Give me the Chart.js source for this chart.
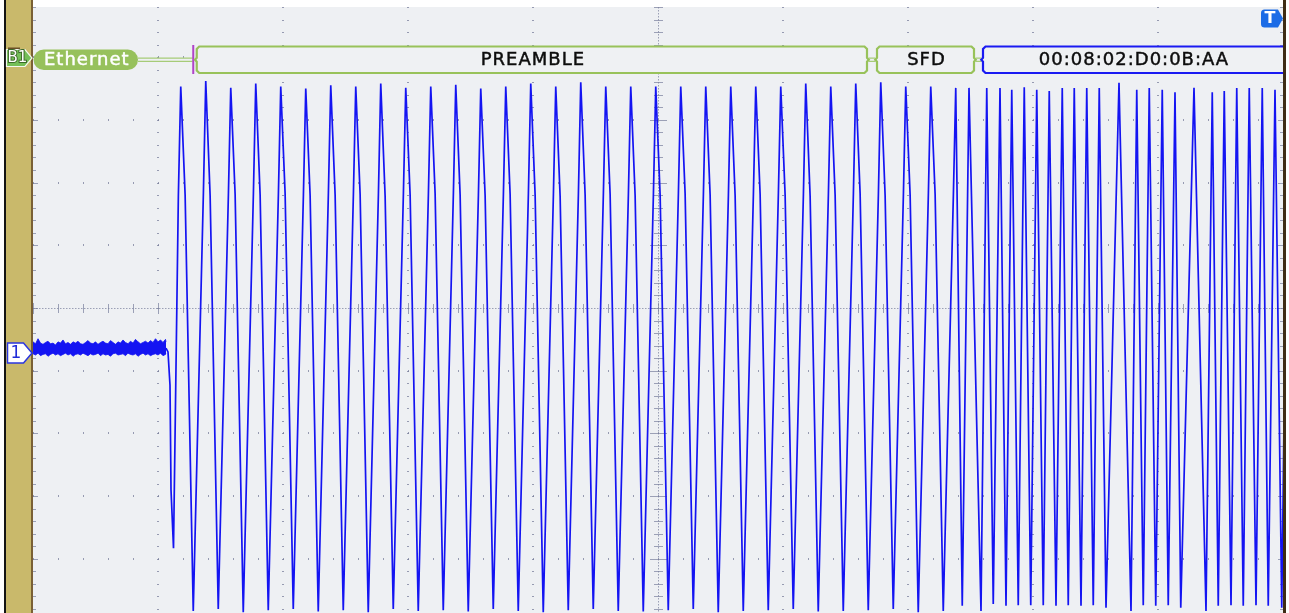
<!DOCTYPE html>
<html>
<head>
<meta charset="utf-8">
<script src="https://cdn.jsdelivr.net/npm/chart.js@4.4.1/dist/chart.umd.min.js"></script>
<style>
  html, body { margin: 0; padding: 0; background: #ffffff; overflow: hidden; }
  #wrap { position: absolute; left: 0; top: 0; width: 1289px; height: 613px; }
</style>
</head>
<body>
<div id="wrap"><canvas id="c" width="1289" height="613"></canvas></div>
<script>
// ---------- DATA (time in ns, level in divisions, 1 µs/div) ----------
const timeMin = -5000, timeMax = 5000;
const levelMin = -4.864, levelMax = 4.80;

// idle (noisy baseline) envelope
const idleTimes = [-5000,-4980,-4960,-4940,-4920,-4900,-4880,-4860,-4840,-4820,-4800,-4780,-4760,-4740,-4720,-4700,-4680,-4660,-4640,-4620,-4600,-4580,-4560,-4540,-4520,-4500,-4480,-4460,-4440,-4420,-4400,-4380,-4360,-4340,-4320,-4300,-4280,-4260,-4240,-4220,-4200,-4180,-4160,-4140,-4120,-4100,-4080,-4060,-4040,-4020,-4000,-3980,-3960,-3940,-3936];
const idleTop = [-0.54,-0.57,-0.49,-0.56,-0.58,-0.55,-0.53,-0.57,-0.56,-0.59,-0.54,-0.56,-0.51,-0.57,-0.55,-0.58,-0.54,-0.56,-0.53,-0.57,-0.58,-0.55,-0.52,-0.56,-0.57,-0.54,-0.58,-0.55,-0.53,-0.56,-0.57,-0.52,-0.55,-0.58,-0.54,-0.56,-0.51,-0.55,-0.57,-0.53,-0.56,-0.50,-0.54,-0.57,-0.55,-0.53,-0.56,-0.52,-0.55,-0.49,-0.54,-0.51,-0.55,-0.50,-0.54];
const idleBottom = [-0.73,-0.75,-0.72,-0.76,-0.74,-0.73,-0.77,-0.74,-0.72,-0.75,-0.73,-0.76,-0.74,-0.72,-0.75,-0.73,-0.77,-0.74,-0.73,-0.75,-0.72,-0.74,-0.76,-0.73,-0.75,-0.74,-0.72,-0.76,-0.73,-0.75,-0.74,-0.77,-0.73,-0.72,-0.75,-0.74,-0.73,-0.76,-0.72,-0.74,-0.75,-0.73,-0.77,-0.74,-0.72,-0.75,-0.73,-0.76,-0.74,-0.73,-0.75,-0.72,-0.76,-0.74,-0.73];

// start of frame (leaving idle)
const startTimes  = [-3936, -3920, -3904, -3896, -3876];
const startLevels = [-0.64, -0.70, -1.23, -2.90, -3.83];

// preamble: rising knee, peak, falling knee, trough
const preambleRiseKneeTimes = [-3837,-3637,-3437,-3237,-3037,-2837,-2637,-2437,-2237,-2037,-1837,-1637,-1437,-1237,-1037,-837,-637,-437,-237,-37,163,363,563,763,963,1163,1363,1563,1763,1963,2163,2363];
const preambleRiseKneeLevels = [1.80,1.82,1.79,1.81,1.80,1.78,1.82,1.80,1.79,1.81,1.80,1.82,1.78,1.80,1.81,1.79,1.80,1.82,1.80,1.79,1.81,1.80,1.78,1.80,1.82,1.79,1.80,1.81,1.80,1.79,1.82,1.80];
const preamblePeakTimes = [-3818,-3618,-3418,-3218,-3018,-2818,-2618,-2418,-2218,-2018,-1818,-1618,-1418,-1218,-1018,-818,-618,-418,-218,-18,182,382,582,782,982,1182,1382,1582,1782,1982,2182,2382];
const preamblePeakLevels = [3.53,3.62,3.51,3.58,3.53,3.50,3.55,3.53,3.58,3.51,3.53,3.56,3.50,3.53,3.58,3.53,3.60,3.53,3.53,3.53,3.53,3.53,3.53,3.53,3.53,3.58,3.53,3.58,3.60,3.53,3.53,3.51];
const preambleFallKneeTimes = [-3783,-3583,-3383,-3183,-2983,-2783,-2583,-2383,-2183,-1983,-1783,-1583,-1383,-1183,-983,-783,-583,-383,-183,17,217,417,617,817,1017,1217,1417,1617,1817,2017,2217];
const preambleFallKneeLevels = [1.80,1.79,1.81,1.80,1.82,1.79,1.80,1.81,1.78,1.80,1.82,1.80,1.79,1.81,1.80,1.78,1.80,1.81,1.79,1.80,1.82,1.80,1.79,1.81,1.80,1.78,1.80,1.82,1.79,1.80,1.81];
const preambleTroughTimes = [-3718,-3518,-3318,-3118,-2918,-2718,-2518,-2318,-2118,-1918,-1718,-1518,-1318,-1118,-918,-718,-518,-318,-118,82,282,482,682,882,1082,1282,1482,1682,1882,2082,2282];
const preambleTroughLevels = [-4.83,-4.80,-4.85,-4.82,-4.80,-4.84,-4.82,-4.85,-4.80,-4.83,-4.82,-4.84,-4.80,-4.83,-4.85,-4.82,-4.80,-4.83,-4.84,-4.82,-4.80,-4.85,-4.83,-4.82,-4.80,-4.84,-4.83,-4.82,-4.80,-4.85,-4.83];

// SFD end + destination address (alternating trough / peak)
const frameTimes = [2434,2488,2584,2630,2682,2736,2784,2830,2882,2930,2982,3030,3082,3130,3184,3234,3282,3330,3384,3430,3482,3530,3584,3688,3784,3830,3882,3930,3982,4034,4082,4136,4182,4288,4384,4434,4482,4530,4584,4630,4682,4730,4784,4834,4882,4936,4990,5040];
const frameLevels = [-4.75,3.51,-4.83,3.51,-4.72,3.51,-4.75,3.48,-4.74,3.52,-4.74,3.48,-4.74,3.46,-4.75,3.51,-4.74,3.51,-4.75,3.51,-4.74,3.51,-4.78,3.59,-4.83,3.48,-4.74,3.51,-4.75,3.48,-4.74,3.44,-4.78,3.51,-4.83,3.44,-4.75,3.46,-4.74,3.51,-4.75,3.51,-4.74,3.51,-4.75,3.48,-4.78,3.51];

// protocol decode row
const busName = "Ethernet";
const busFields = ["PREAMBLE", "SFD", "00:08:02:D0:0B:AA"];
const busFieldStart = [-3690, 1752, 2600];   // ns
const busFieldEnd   = [1672, 2528, 5020];    // ns

// ---------- build series ----------
function zip(ts, vs) { return ts.map((t, i) => ({ x: t, y: vs[i] })); }
const tracePts = zip(startTimes, startLevels);
for (let i = 0; i < preamblePeakTimes.length; i++) {
  tracePts.push({ x: preambleRiseKneeTimes[i], y: preambleRiseKneeLevels[i] });
  tracePts.push({ x: preamblePeakTimes[i], y: preamblePeakLevels[i] });
  if (i < preambleFallKneeTimes.length) tracePts.push({ x: preambleFallKneeTimes[i], y: preambleFallKneeLevels[i] });
  if (i < preambleTroughTimes.length) tracePts.push({ x: preambleTroughTimes[i], y: preambleTroughLevels[i] });
}
zip(frameTimes, frameLevels).forEach(p => tracePts.push(p));

const TRACE = 'rgb(20,20,242)';

// ---------- plugins ----------
const scopePlugin = {
  id: 'scope',
  beforeDraw(chart) {
    const ctx = chart.ctx, ca = chart.chartArea;
    const W = chart.width, H = chart.height;
    ctx.save();
    ctx.fillStyle = '#ffffff';
    ctx.fillRect(0, 0, W, H);
    ctx.fillStyle = '#eef0f3';
    ctx.fillRect(ca.left, ca.top, ca.right - ca.left, ca.bottom - ca.top);
    ctx.fillStyle = '#141414';
    ctx.fillRect(4, 0, 2, H);
    ctx.fillStyle = '#c9b96b';
    ctx.fillRect(6, 0, ca.left - 8, H);
    ctx.fillStyle = '#7a6034';
    ctx.fillRect(ca.left - 2, 0, 2, H);
    const xs = chart.scales.x, ys = chart.scales.y;
    ctx.fillStyle = 'rgba(120,126,155,0.75)';
    const minorY = [];
    for (let j = -30; j <= 30; j++) { const v = j * 0.2; if (v >= levelMin - 1e-6 && v <= levelMax + 1e-6) minorY.push(v); }
    const minorX = [];
    for (let j = -25; j <= 25; j++) minorX.push(j * 200);
    for (let i = -4; i <= 4; i++) {
      if (i === 0) continue;
      const px = Math.round(xs.getPixelForValue(i * 1000));
      minorY.forEach(v => { const py = Math.round(ys.getPixelForValue(v)); ctx.fillRect(px, py, 1, 1); ctx.fillRect(px - 1, py, 1, 1); });
    }
    for (let j = -4; j <= 4; j++) {
      if (j === 0) continue;
      const py = Math.round(ys.getPixelForValue(j));
      minorX.forEach(t => { const px = Math.round(xs.getPixelForValue(t)); ctx.fillRect(px, py, 1, 1); ctx.fillRect(px, py - 1, 1, 1); });
    }
    const cx = Math.round(xs.getPixelForValue(0));
    const cy = Math.round(ys.getPixelForValue(0));
    ctx.fillStyle = 'rgba(120,126,155,0.7)';
    for (let x = ca.left; x < ca.right; x += 3) ctx.fillRect(x, cy, 1.5, 1);
    for (let y = ca.top; y < ca.bottom; y += 3) ctx.fillRect(cx, y, 1, 1.5);
    minorX.forEach(t => { const px = Math.round(xs.getPixelForValue(t)); const L = (t % 1000 === 0) ? 5 : 4; ctx.fillRect(px, cy - L, 1, 2 * L + 1); });
    minorY.forEach(v => { const py = Math.round(ys.getPixelForValue(v)); const major = Math.abs(v - Math.round(v)) < 1e-6; const L = major ? 8 : 4; ctx.fillRect(cx - L, py, 2 * L + 1, 1); });
    minorY.forEach(v => { const py = Math.round(ys.getPixelForValue(v)); const major = Math.abs(v - Math.round(v)) < 1e-6; ctx.fillRect(ca.left, py, major ? 5 : 3, 1); ctx.fillRect(ca.right - (major ? 5 : 3), py, major ? 5 : 3, 1); });
    ctx.restore();
  },
  afterDraw(chart) {
    const ctx = chart.ctx, ca = chart.chartArea, xs = chart.scales.x;
    ctx.save();
    const T = 46.5, B = 73, M = 59.75;
    const green = '#98c25a';
    function box(L, R, color, openRight) {
      ctx.beginPath();
      if (openRight) {
        ctx.moveTo(R, T); ctx.lineTo(L + 2.5, T); ctx.lineTo(L, T + 2.5); ctx.lineTo(L, M - 2); ctx.lineTo(L - 1.8, M);
        ctx.lineTo(L, M + 2); ctx.lineTo(L, B - 2.5); ctx.lineTo(L + 2.5, B); ctx.lineTo(R, B);
      } else {
        ctx.moveTo(L + 2.5, T); ctx.lineTo(R - 2.5, T); ctx.lineTo(R, T + 2.5); ctx.lineTo(R, M - 2); ctx.lineTo(R + 1.8, M);
        ctx.lineTo(R, M + 2); ctx.lineTo(R, B - 2.5); ctx.lineTo(R - 2.5, B); ctx.lineTo(L + 2.5, B); ctx.lineTo(L, B - 2.5);
        ctx.lineTo(L, M + 2); ctx.lineTo(L - 1.8, M); ctx.lineTo(L, M - 2); ctx.lineTo(L, T + 2.5); ctx.closePath();
      }
      ctx.fillStyle = '#eff1f3';
      ctx.fill();
      ctx.strokeStyle = color; ctx.lineWidth = 2.2; ctx.lineJoin = 'miter';
      ctx.stroke();
    }
    function dbl(x1, x2) {
      ctx.strokeStyle = '#a6cb78'; ctx.lineWidth = 1.3;
      ctx.beginPath(); ctx.moveTo(x1, M - 1.6); ctx.lineTo(x2, M - 1.6); ctx.moveTo(x1, M + 1.6); ctx.lineTo(x2, M + 1.6); ctx.stroke();
    }
    function heavyText(s, x, y, color) {
      ctx.fillStyle = color; ctx.strokeStyle = color; ctx.lineWidth = 0.45;
      ctx.fillText(s, x, y); ctx.strokeText(s, x, y);
    }
    const px = busFieldStart.map(t => xs.getPixelForValue(t));
    const pxe = busFieldEnd.map(t => Math.min(xs.getPixelForValue(t), ca.right));
    // Ethernet pill
    const pL = ca.left + 0.5, pR = 138, pT = 49.5, pB = 70, r = (pB - pT) / 2;
    ctx.fillStyle = '#97c15c';
    ctx.beginPath();
    ctx.moveTo(pL + r, pT); ctx.lineTo(pR - r, pT); ctx.arc(pR - r, pT + r, r, -Math.PI / 2, Math.PI / 2);
    ctx.lineTo(pL + r, pB); ctx.arc(pL + r, pT + r, r, Math.PI / 2, Math.PI * 1.5); ctx.closePath(); ctx.fill();
    ctx.font = '18px "DejaVu Sans"';
    ctx.textAlign = 'center'; ctx.textBaseline = 'middle';
    try { ctx.letterSpacing = '1px'; } catch (e) {}
    heavyText(busName, (pL + pR) / 2 + 1, M + 0.5, '#ffffff');
    dbl(pR, px[0] - 4);
    ctx.fillStyle = '#b043c8';
    ctx.fillRect(px[0] - 4.5, 45, 2, 29);
    box(px[0], pxe[0], green, false);
    box(px[1], pxe[1], green, false);
    box(px[2], ca.right + 2, '#1a1af2', true);
    dbl(pxe[0] + 1.8, px[1] - 1.8);
    dbl(pxe[1] + 1.8, px[2] - 1.8);
    ctx.font = '18px "DejaVu Sans"';
    try { ctx.letterSpacing = '1px'; } catch (e) {}
    busFields.forEach((s, i) => {
      const c = (px[i] + (i === 2 ? ca.right : pxe[i])) / 2 + 1;
      heavyText(s, c, M + 0.5, '#0d0d0d');
    });
    try { ctx.letterSpacing = '0px'; } catch (e) {}
    // right border
    ctx.fillStyle = '#3e2c15';
    ctx.fillRect(ca.right, 0, 3, chart.height);
    ctx.fillStyle = '#ffffff';
    ctx.fillRect(ca.right + 3, 0, chart.width - ca.right - 3, chart.height);
    // trigger marker
    ctx.fillStyle = '#1c6ce6';
    ctx.beginPath();
    const tl = 1261, tt = 9.5, tr = 1278, tb = 27.5, rr = 3.5;
    ctx.moveTo(tl + rr, tt); ctx.lineTo(tr, tt); ctx.lineTo(ca.right, (tt + tb) / 2); ctx.lineTo(tr, tb);
    ctx.lineTo(tl + rr, tb); ctx.quadraticCurveTo(tl, tb, tl, tb - rr); ctx.lineTo(tl, tt + rr); ctx.quadraticCurveTo(tl, tt, tl + rr, tt);
    ctx.closePath(); ctx.fill();
    ctx.fillStyle = '#ffffff'; ctx.font = 'bold 16px "DejaVu Sans"';
    ctx.fillText('T', 1270, 19);
    // B1 tag
    ctx.beginPath();
    ctx.moveTo(6.5, 49.5); ctx.lineTo(25, 49.5); ctx.lineTo(32, 58); ctx.lineTo(25, 66.5); ctx.lineTo(6.5, 66.5); ctx.closePath();
    ctx.fillStyle = '#74bf58'; ctx.fill();
    ctx.strokeStyle = '#f4f8ee'; ctx.lineWidth = 1.2; ctx.stroke();
    ctx.fillStyle = '#6b5026'; ctx.fillRect(8, 47.5, 12, 1.5);
    ctx.font = '15px "DejaVu Sans"';
    ctx.lineWidth = 2; ctx.strokeStyle = '#3e6a2a'; ctx.strokeText('B1', 17.5, 58.5);
    ctx.fillStyle = '#ffffff';
    ctx.fillText('B1', 17.5, 58.5);
    // channel 1 marker
    ctx.beginPath();
    ctx.moveTo(7.5, 343); ctx.lineTo(23.5, 343); ctx.lineTo(32, 353); ctx.lineTo(23.5, 363); ctx.lineTo(7.5, 363); ctx.closePath();
    ctx.fillStyle = '#ffffff'; ctx.fill();
    ctx.strokeStyle = '#2a36e0'; ctx.lineWidth = 1.5; ctx.stroke();
    ctx.fillStyle = '#1f2bd8'; ctx.font = '17px "DejaVu Sans"';
    ctx.fillText('1', 16, 353.5);
    ctx.restore();
  }
};

new Chart(document.getElementById('c'), {
  type: 'line',
  data: {
    datasets: [
      { label: 'idle-top', data: zip(idleTimes, idleTop), borderColor: TRACE, backgroundColor: TRACE, borderWidth: 0.8, fill: '+1', pointRadius: 0 },
      { label: 'idle-bottom', data: zip(idleTimes, idleBottom), borderColor: TRACE, borderWidth: 0.8, fill: false, pointRadius: 0 },
      { label: 'CH1', data: tracePts, borderColor: TRACE, borderWidth: 1.7, fill: false, pointRadius: 0 }
    ]
  },
  options: {
    responsive: false,
    animation: false,
    devicePixelRatio: 1,
    layout: { padding: { left: 33, right: 6, top: 7, bottom: 0 } },
    scales: {
      x: { type: 'linear', min: timeMin, max: timeMax, display: false },
      y: { type: 'linear', min: levelMin, max: levelMax, display: false }
    },
    elements: { line: { tension: 0 }, point: { radius: 0 } },
    plugins: { legend: { display: false }, tooltip: { enabled: false } }
  },
  plugins: [scopePlugin]
});
</script>
</body>
</html>
